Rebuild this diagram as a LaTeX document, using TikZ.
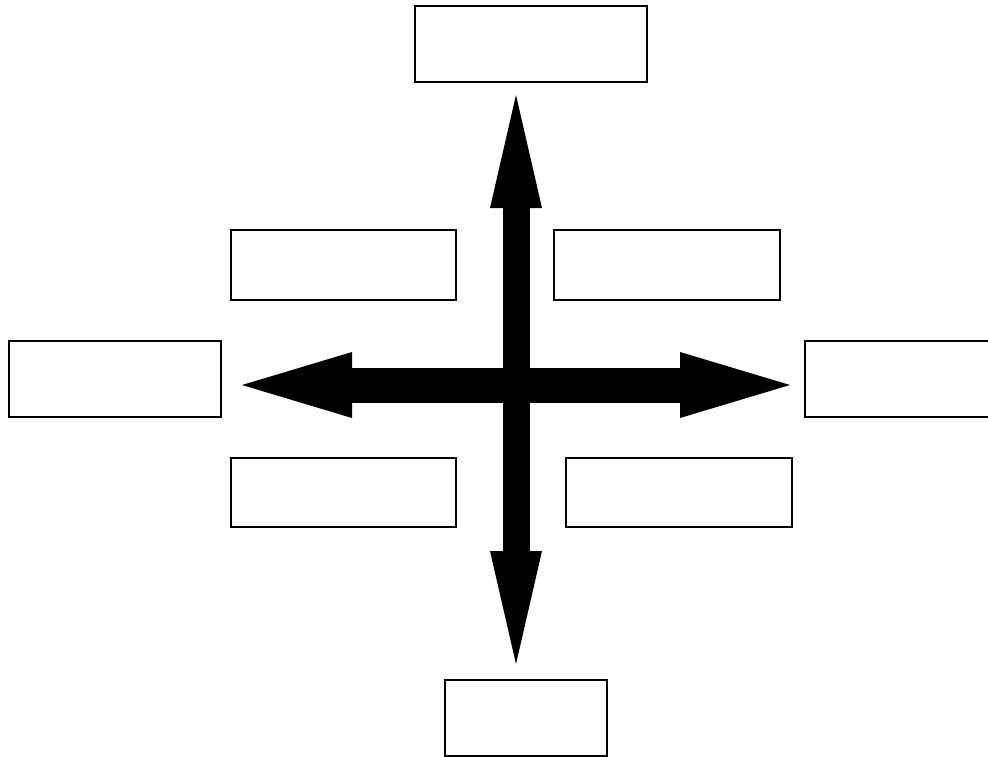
\documentclass[tikz,border=0pt]{standalone}
\usetikzlibrary{arrows.meta}
\tikzset{
  emptybox/.style={draw, line width=1.5pt, fill=white, inner sep=0pt},
}
\begin{document}
\begin{tikzpicture}[x=1pt, y=-1pt]
			\useasboundingbox (0,0) rectangle (988,757);
			\clip (0,0) rectangle (988,757);
			\node[emptybox, minimum width=232pt, minimum height=76pt] (top) at (531,44) {};
			\node[emptybox, minimum width=225pt, minimum height=70pt] (upleft) at (343.5,265) {};
			\node[emptybox, minimum width=226pt, minimum height=70pt] (upright) at (667,265) {};
			\node[emptybox, minimum width=212pt, minimum height=76pt] (left) at (115,379) {};
			\node[emptybox, minimum width=214pt, minimum height=76pt] (right) at (912,379) {};
			\node[emptybox, minimum width=225pt, minimum height=69pt] (lowleft) at (343.5,492.5) {};
			\node[emptybox, minimum width=226pt, minimum height=69pt] (lowright) at (679,492.5) {};
			\node[emptybox, minimum width=162pt, minimum height=76pt] (bottom) at (526,718) {};
			\coordinate (n) at (516,95);
			\coordinate (s) at (516,664);
			\coordinate (w) at (242,385);
			\coordinate (e) at (790,385);
			\draw[line width=27pt, {Triangle[width=52pt,length=113pt,line width=0pt]}-{Triangle[width=52pt,length=113pt,line width=0pt]}] (n) -- (s);
			\draw[line width=35pt, {Triangle[width=66pt,length=110pt,line width=0pt]}-{Triangle[width=66pt,length=110pt,line width=0pt]}] (w) -- (e);
		\end{tikzpicture}
\end{document}
